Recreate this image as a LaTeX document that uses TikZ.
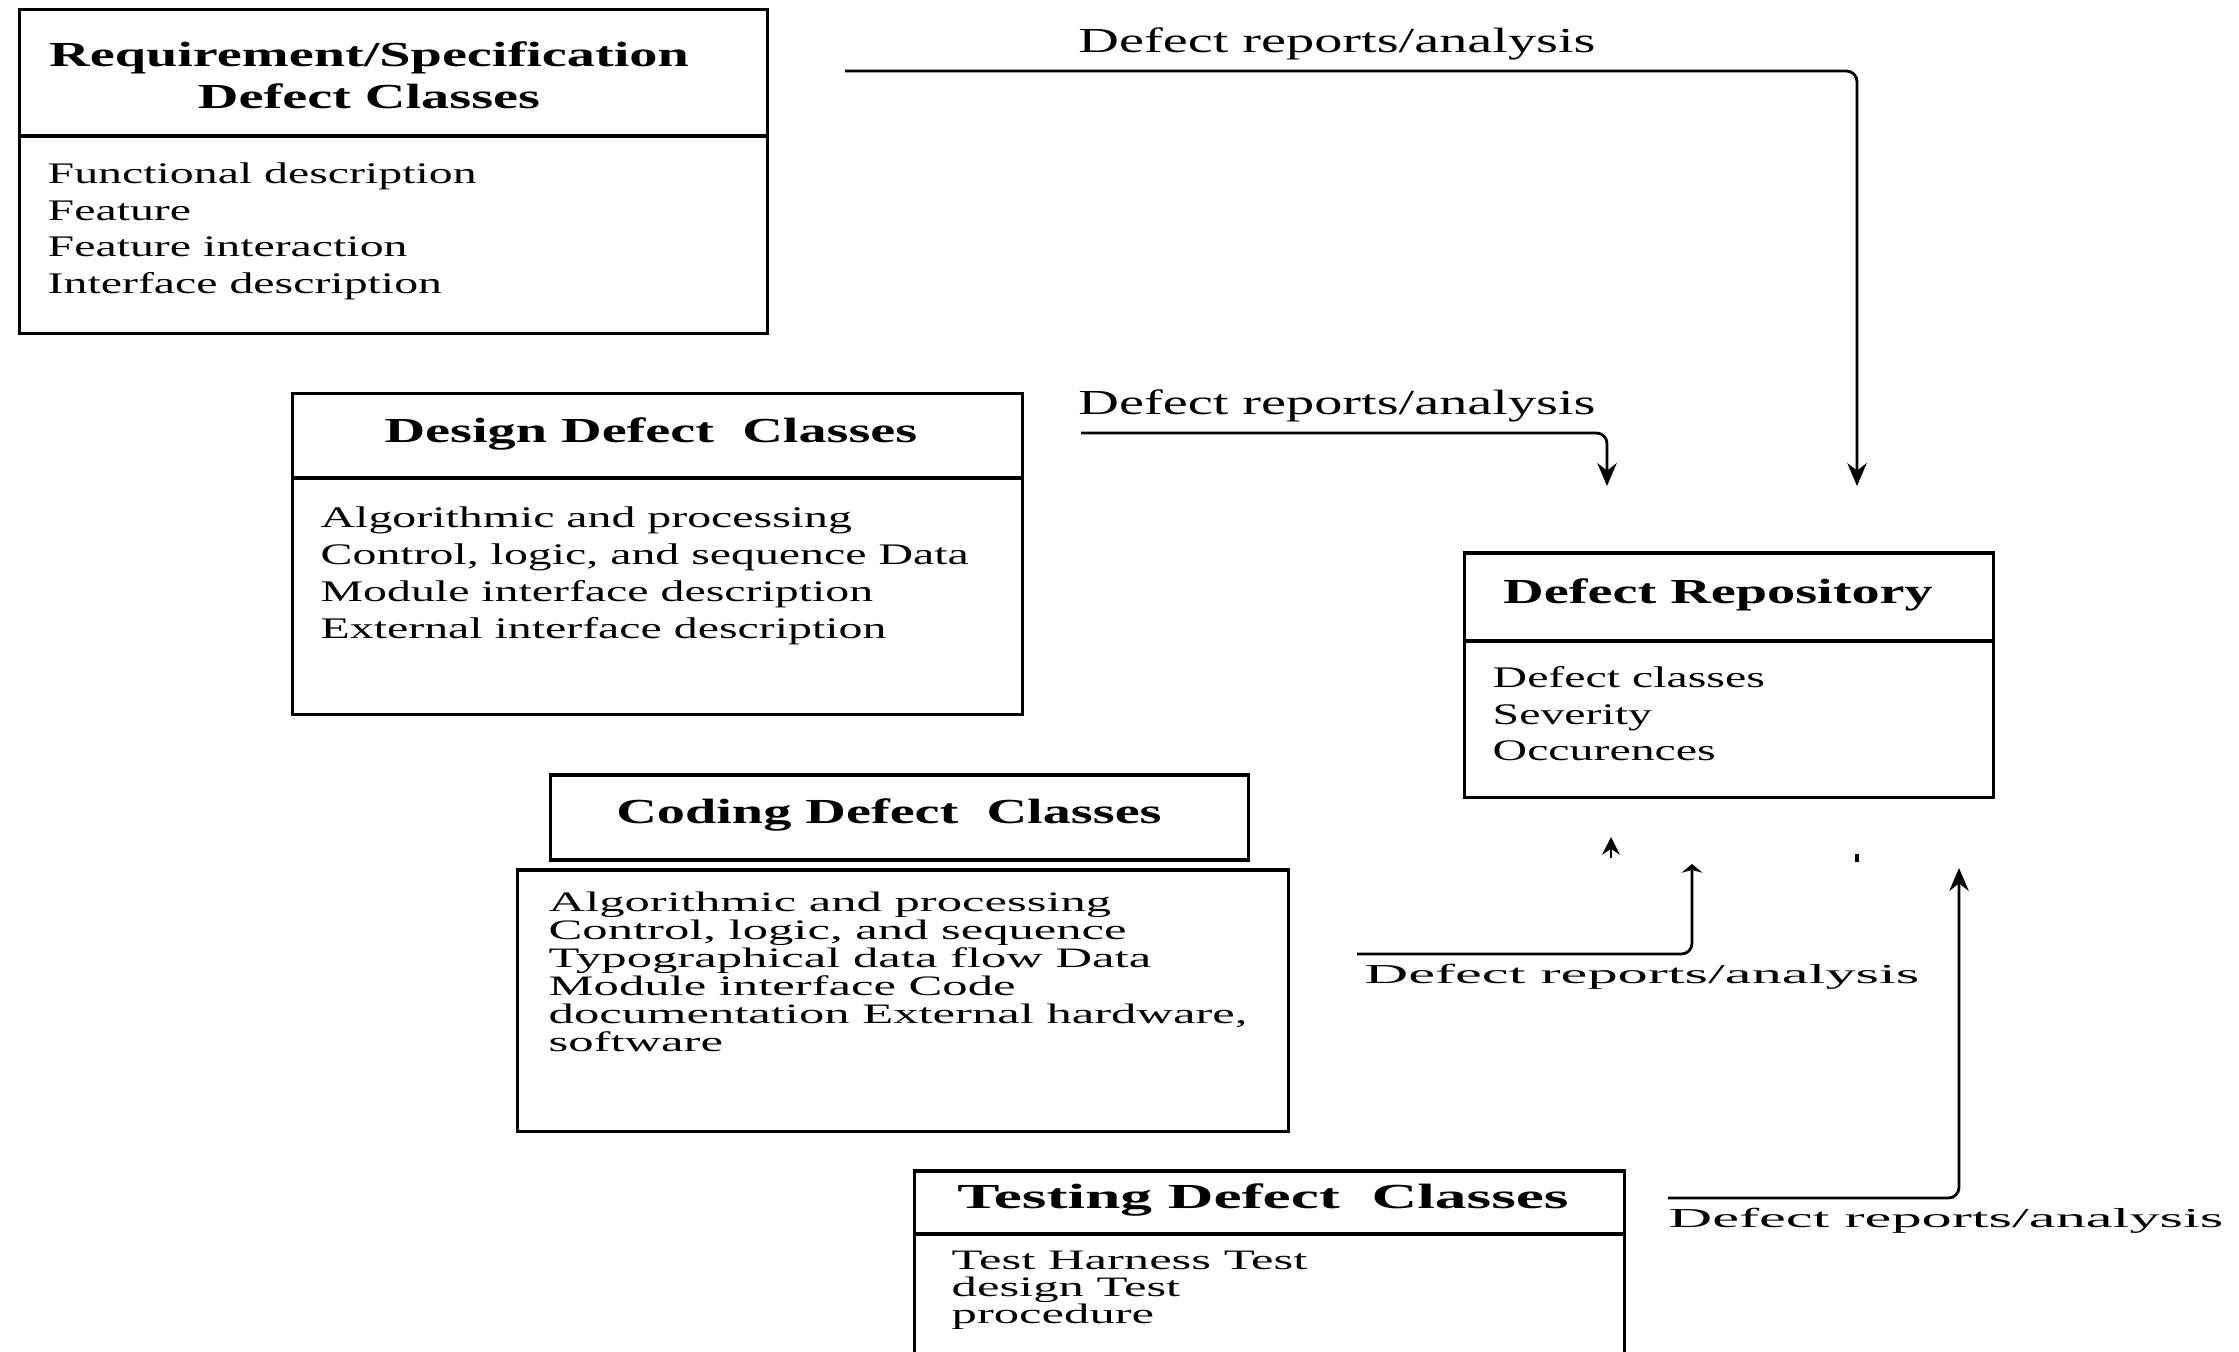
\documentclass[tikz,border=0pt]{standalone}
\usepackage{fontspec}
\setmainfont{Liberation Serif}[FakeStretch=1.6]
\newfontfamily\midfont{Liberation Serif}[FakeStretch=1.8]
\newfontfamily\widefont{Liberation Serif}[FakeStretch=2.2]
\usetikzlibrary{arrows.meta}
\begin{document}
\begin{tikzpicture}[x=0.01cm,y=-0.01cm,
   box/.style={draw,line width=0.9pt,inner sep=0pt},
   head/.style={font=\fontsize{10}{12}\selectfont\bfseries,align=center,inner sep=0pt},
   items/.style={anchor=north west,inner sep=0pt,align=left},
   note/.style={inner sep=0pt,font=\fontsize{10}{12}\selectfont},
   flow/.style={line width=0.8pt,rounded corners=3pt,-{Stealth[length=6.5pt,width=5.5pt]}}]
   \useasboundingbox[fill=white] (0,0) rectangle (2239,1351);
   \clip (0,0) rectangle (2239,1351);
   \node[box,minimum width=7.47cm,minimum height=3.23cm] (req) at (393.5,171.5) {};
   \draw[line width=0.9pt] (req.west |- 0,136) -- (req.east |- 0,136);
   \node[head] (reqt) at (369,75) {Requirement/Specification\\Defect Classes};
   \node[items,font=\fontsize{8.5}{10.4}\selectfont] (reqi) at (47,162) {Functional description\\Feature\\Feature interaction\\Interface description};
   \node[box,minimum width=7.29cm,minimum height=3.2cm] (des) at (657.5,554) {};
   \draw[line width=0.9pt] (des.west |- 0,478) -- (des.east |- 0,478);
   \node[head] (dest) at (651,434) {Design Defect~ Classes};
   \node[items,font=\fontsize{8.5}{10.5}\selectfont] (desi) at (320,506) {Algorithmic and processing\\Control, logic, and sequence Data\\Module interface description\\External interface description};
   \node[box,minimum width=5.28cm,minimum height=2.44cm] (repo) at (1729,675) {};
   \draw[line width=0.9pt] (repo.west |- 0,641) -- (repo.east |- 0,641);
   \node[head] (repot) at (1718,595) {Defect Repository};
   \node[items,font=\fontsize{8.5}{10.4}\selectfont] (repoi) at (1492,666) {Defect classes\\Severity\\Occurences};
   \node[box,minimum width=7.7cm,minimum height=2.61cm] (codb) at (903,1000.5) {};
   \node[box,fill=white,minimum width=6.97cm,minimum height=0.85cm] (codt) at (899.5,817.5) {};
   \node[head] (codh) at (889,815) {Coding Defect~ Classes};
   \node[items,font=\midfont\fontsize{8}{8}\selectfont] (codi) at (548,891) {Algorithmic and processing\\Control, logic, and sequence\\Typographical data flow Data\\Module interface Code\\documentation External hardware,\\software};
   \node[box,minimum width=7.09cm,minimum height=2.29cm] (test) at (1269.5,1285.5) {};
   \draw[line width=0.9pt] (test.west |- 0,1234) -- (test.east |- 0,1234);
   \node[head,font=\midfont\fontsize{10}{12}\selectfont\bfseries] (testh) at (1263,1200) {Testing Defect~ Classes};
   \node[items,font=\midfont\fontsize{8}{7.7}\selectfont] (testi) at (951,1250) {Test Harness Test\\design Test\\procedure};
   \coordinate (a1s) at (845,71);
   \coordinate (a1e) at (1857,486);
   \coordinate (a2s) at (1081,433);
   \coordinate (a2e) at (1607,486);
   \coordinate (a3s) at (1357,954);
   \coordinate (a3e) at (1692,864);
   \coordinate (a4s) at (1668,1198);
   \coordinate (a4e) at (1959,868);
   \coordinate (s1) at (1611,858);
   \coordinate (s1e) at (1611,837);
   \coordinate (s2) at (1857,862);
   \coordinate (s2e) at (1857,854);
   \draw[flow] (a1s) -| (a1e);
   \draw[flow] (a2s) -| (a2e);
   \draw[flow,-{Stealth[length=2.5pt,width=6pt]}] (a3s) -| (a3e);
   \draw[flow] (a4s) -| (a4e);
   \draw[line width=0.8pt,-{Stealth[length=5pt,width=5pt]}] (s1) -- (s1e);
   \draw[line width=1pt] (s2) -- (s2e);
   \node[note] (lab1) at (1337,44) {Defect reports/analysis};
   \node[note] (lab2) at (1337,406) {Defect reports/analysis};
   \node[note,anchor=west,font=\widefont\fontsize{7.8}{9}\selectfont] (lab3) at (1364,977) {Defect reports/analysis};
   \node[note,anchor=west,font=\widefont\fontsize{7.8}{9}\selectfont] (lab4) at (1668,1221) {Defect reports/analysis};
\end{tikzpicture}
\end{document}
